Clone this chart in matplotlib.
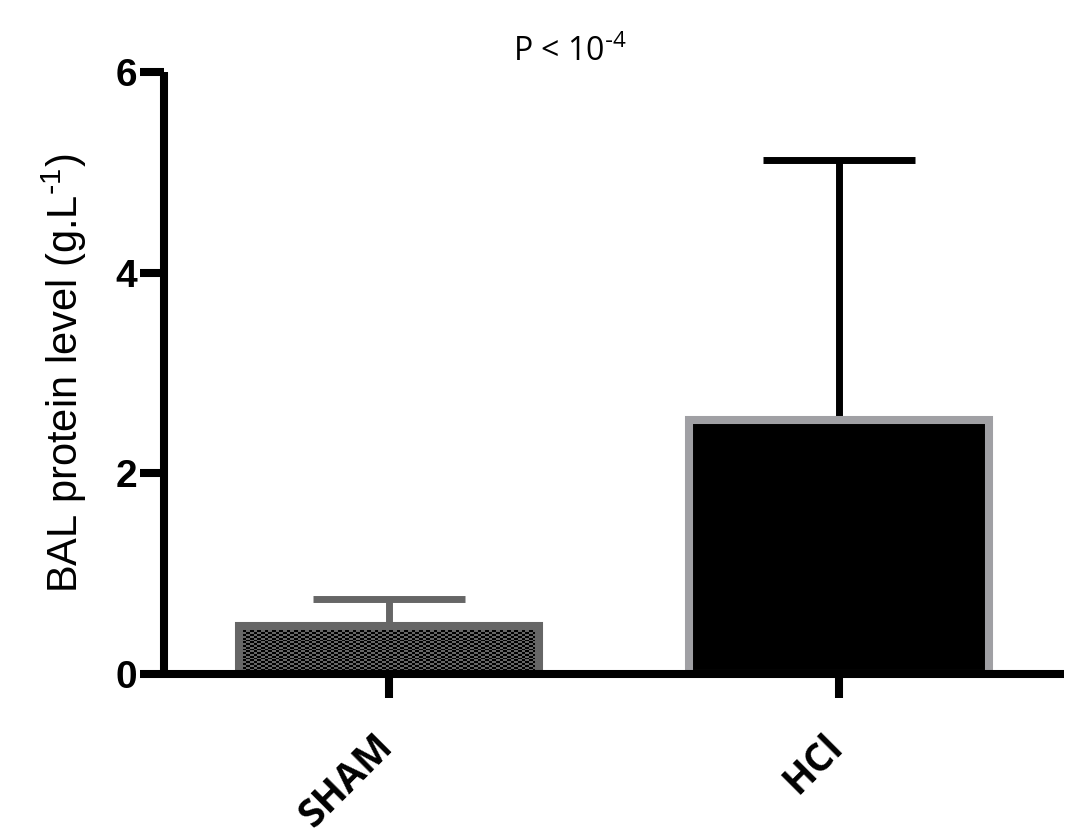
import numpy as np
import matplotlib.pyplot as plt
import matplotlib.transforms as mtransforms

plt.rcParams['mathtext.default'] = 'regular'

# datos
groups = ['SHAM', 'HCl']
means = [0.48, 2.53]
sd_up = [0.27, 2.59]
edge_colors = ['#666666', '#a0a0a4']
face_colors = ['black', 'black']
err_colors = ['#666666', 'black']

fig = plt.figure(figsize=(10.92, 8.38), dpi=100)
ax = fig.add_axes([0.150, 0.1957, 0.824, 0.7183])

x = np.arange(len(groups))
bars = ax.bar(x, means, width=0.667, color=face_colors, edgecolor=edge_colors,
              linewidth=5.8, zorder=2)

# damero para la barra SHAM
b = bars[0]
fig.canvas.draw()
bb = b.get_window_extent()
nx = int(round(bb.width / 4))
ny = int(round(bb.height / 4))
iy, ix = np.indices((ny, nx))
checker = (ix + iy) % 2
im = ax.imshow(checker, cmap=plt.matplotlib.colors.ListedColormap(['black', '#666666']),
               extent=[b.get_x(), b.get_x() + b.get_width(), 0, b.get_height()],
               aspect='auto', interpolation='nearest', zorder=2.1)
im.set_clip_path(b)
b.set_facecolor('none')
b.set_zorder(2.2)

for i in range(len(groups)):
    ax.errorbar(x[i], means[i], yerr=[[0], [sd_up[i]]], fmt='none',
                ecolor=err_colors[i], elinewidth=5, capsize=55, capthick=5,
                zorder=1.5)

ax.set_xlim(-0.5, 1.5)
ax.set_ylim(0, 6)
ax.set_yticks([0, 2, 4, 6])
ax.set_xticks(x)
ax.set_xticklabels([])
# etiquetas x desplazadas a mano
offset = mtransforms.ScaledTranslation(-0.16, -0.53, fig.dpi_scale_trans)
for i in range(len(groups)):
    ax.text(x[i], 0, groups[i], transform=ax.get_xaxis_transform() + offset,
            rotation=45, ha='right', va='top', rotation_mode='anchor',
            family='Open Sans', fontweight='bold', fontsize=28)
for lab in ax.get_yticklabels():
    lab.set_family('Liberation Sans')
    lab.set_fontweight('bold')
    lab.set_fontsize(28)

for s in ['top', 'right']:
    ax.spines[s].set_visible(False)
for s in ['left', 'bottom']:
    ax.spines[s].set_linewidth(5.8)
    ax.spines[s].set_capstyle('butt')
ax.tick_params(axis='both', width=5.8, length=17)
ax.tick_params(axis='y', pad=2)

ax.set_ylabel('BAL protein level (g.L$^{\\text{-}1}$)', family='Liberation Sans',
              fontsize=30, labelpad=19)
fig.text(0.522, 0.938, 'P < 10$^{\\text{-}4}$', family='Open Sans',
         fontsize=23, ha='center', va='center')

fig.savefig('out.png', dpi=100)
